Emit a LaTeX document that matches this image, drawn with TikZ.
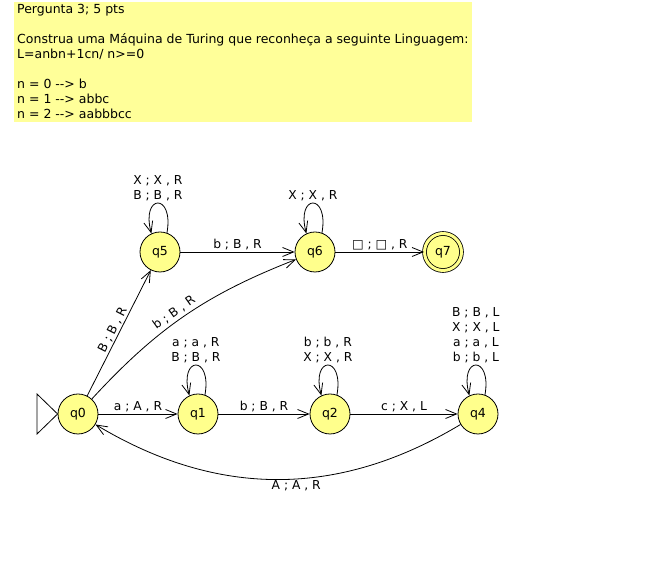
\documentclass[tikz,border=0pt]{standalone}
\usepackage{fontspec}
\setmainfont{DejaVu Sans}
\usetikzlibrary{arrows.meta}
\definecolor{stfill}{RGB}{255,255,140}
\definecolor{hdrfill}{RGB}{255,255,153}
\begin{document}
\begin{tikzpicture}[x=1pt,y=1pt,
  state/.style={circle,draw=black,fill=stfill,minimum size=40pt,inner sep=0pt,line width=0.8pt,font=\fontsize{12.5}{14}\selectfont},
  accstate/.style={state,minimum size=37pt,double=stfill,double distance=3pt},
  arr/.style={draw,line width=0.8pt,-{Straight Barb[length=11pt,width=9pt,line width=0.8pt]}},
  lbl/.style={font=\fontsize{12.3}{15}\selectfont,inner sep=1.5pt,align=center},
  hdr/.style={font=\fontsize{12.5}{15}\selectfont,inner sep=0pt,align=left,anchor=north west}
]
\useasboundingbox (0,0) rectangle (654,575);
\fill[hdrfill] (14,453) rectangle (472,573);
\node[hdr] (header) at (17,571) {Pergunta 3; 5 pts\\ ~\\
Construa uma Máquina de Turing que reconheça a seguinte Linguagem:\\
L=anbn+1cn/ n>=0\\ ~\\
n = 0 -\kern0pt-\kern0pt> b\\
n = 1 -\kern0pt-\kern0pt> abbc\\
n = 2 -\kern0pt-\kern0pt> aabbbcc};

\node[state] (q0) at (78,161) {q0};
\node[state] (q1) at (198,161) {q1};
\node[state] (q2) at (330,161) {q2};
\node[state] (q4) at (478,161) {q4};
\node[state] (q5) at (160,323) {q5};
\node[state] (q6) at (315,323) {q6};
\node[accstate] (q7) at (443,323) {q7};

\coordinate (s1) at (37,181);
\coordinate (s2) at (37,141);
\draw[line width=0.8pt] (s1) -- (q0.west) -- (s2) -- cycle;

\draw[arr] (q0) -- node[lbl,above] {a ; A , R} (q1);
\draw[arr] (q1) -- node[lbl,above] {b ; B , R} (q2);
\draw[arr] (q2) -- node[lbl,above] {c ; X , L} (q4);
\draw[arr] (q4) to[bend left=31] node[lbl,below,pos=0.45] {A ; A , R} (q0);
\draw[arr] (q0) -- node[lbl,sloped,above,pos=0.5] {B ; B , R} (q5);
\draw[arr] (q0) to[bend left=13] node[lbl,sloped,above,pos=0.47,inner sep=3pt] {b ; B , R} (q6);
\draw[arr] (q5) -- node[lbl,above] {b ; B , R} (q6);
\draw[arr] (q6) -- node[lbl,above] {□ ; □ , R} (q7);

\draw[arr] (q5.70) .. controls +(80:41) and +(105:41) .. (q5.115) node[lbl,above,pos=0.5] {X ; X , R\\B ; B , R};
\draw[arr] (q6.70) .. controls +(80:41) and +(105:41) .. (q6.115) node[lbl,above,pos=0.5] {X ; X , R};
\draw[arr] (q1.70) .. controls +(80:41) and +(105:41) .. (q1.115) node[lbl,above,pos=0.5] {a ; a , R\\B ; B , R};
\draw[arr] (q2.70) .. controls +(80:41) and +(105:41) .. (q2.115) node[lbl,above,pos=0.5] {b ; b , R\\X ; X , R};
\draw[arr] (q4.70) .. controls +(80:41) and +(105:41) .. (q4.115) node[lbl,above,pos=0.5] {B ; B , L\\X ; X , L\\a ; a , L\\b ; b , L};
\end{tikzpicture}
\end{document}
